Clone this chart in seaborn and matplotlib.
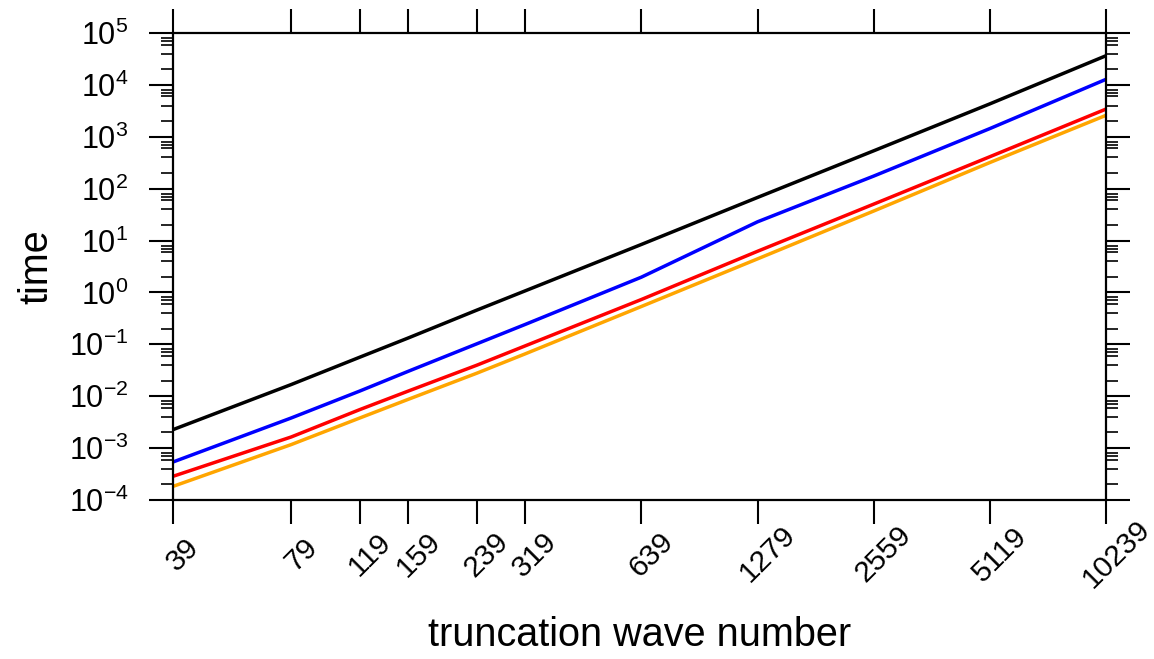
import numpy as np
import pandas as pd
import matplotlib
matplotlib.use("Agg")
import matplotlib.pyplot as plt
import matplotlib.ticker as mticker
import seaborn as sns

# ---- data ----
wave_numbers = [39, 79, 119, 159, 239, 319, 639, 1279, 2559, 5119, 10239]
series_black = [2.27e-3, 1.68e-2, 5.66e-2, 0.133, 0.455, 1.07, 8.41, 67.8, 537, 4310, 36500]
series_blue = [5.40e-4, 3.81e-3, 1.26e-2, 3.03e-2, 0.102, 0.241, 1.97, 23.0, 175, 1440, 12800]
series_red = [2.86e-4, 1.64e-3, 5.53e-3, 1.26e-2, 3.95e-2, 9.31e-2, 0.731, 6.22, 50.4, 413, 3420]
series_orange = [1.83e-4, 1.17e-3, 3.81e-3, 8.73e-3, 2.77e-2, 6.53e-2, 0.536, 4.44, 37.1, 319, 2590]
series_names = ["black", "blue", "red", "orange"]
series_colors = ["black", "blue", "red", "orange"]
x_tick_labels = [str(w) for w in wave_numbers]
y_limits = (1e-4, 1e5)

rows = []
for name, vals in zip(series_names, [series_black, series_blue, series_red, series_orange]):
    for w, v in zip(wave_numbers, vals):
        rows.append({"wave": w, "time": v, "series": name})
df = pd.DataFrame(rows)

sns.set_style("ticks")
plt.rcParams["font.family"] = ["Liberation Sans", "DejaVu Sans"]
plt.rcParams["mathtext.fontset"] = "custom"
plt.rcParams["mathtext.rm"] = "Liberation Sans"
plt.rcParams["mathtext.it"] = "Liberation Sans:italic"
plt.rcParams["mathtext.bf"] = "Liberation Sans:bold"
plt.rcParams["axes.unicode_minus"] = False
plt.rcParams["text.color"] = "black"
plt.rcParams["axes.labelcolor"] = "black"

fig = plt.figure(figsize=(11.54, 6.59), dpi=100)
ax = fig.add_axes([173 / 1154, 1 - 500 / 659, (1106 - 173) / 1154, (500 - 33) / 659])

sns.lineplot(data=df, x="wave", y="time", hue="series", hue_order=series_names,
             palette=series_colors, linewidth=2.5, ax=ax, legend=False, sort=False)

ax.set_xscale("log")
ax.set_yscale("log")
ax.set_xlim(wave_numbers[0], wave_numbers[-1])
ax.set_ylim(*y_limits)

ax.xaxis.set_major_locator(mticker.FixedLocator(wave_numbers))
ax.xaxis.set_major_formatter(mticker.FixedFormatter(x_tick_labels))
ax.xaxis.set_minor_locator(mticker.NullLocator())
ax.yaxis.set_major_locator(mticker.LogLocator(base=10, numticks=20))
ax.yaxis.set_minor_locator(mticker.LogLocator(base=10, subs=[2, 4, 6, 7, 8], numticks=20))
ax.yaxis.set_minor_formatter(mticker.NullFormatter())

for s in ax.spines.values():
    s.set_linewidth(1.6)
    s.set_color("black")

ax.tick_params(axis="both", which="major", direction="out", length=17, width=1.5,
               labelsize=22, colors="black", top=True, right=True)
ax.tick_params(axis="x", which="major", labelsize=21.5, pad=15)
ax.tick_params(axis="y", which="major", pad=15)
ax.tick_params(axis="y", which="minor", direction="out", length=8.5, width=1.2,
               left=True, right=True, colors="black")

for lbl in ax.get_xticklabels():
    lbl.set_rotation(45)
    lbl.set_rotation_mode("anchor")
    lbl.set_ha("center")
    lbl.set_va("top")

ax.set_xlabel("truncation wave number", fontsize=28.5, color="black", va="top")
ax.set_ylabel("time", fontsize=28.5, color="black")
ax.xaxis.set_label_coords(0.5, (500 - 616) / 467)
ax.yaxis.set_label_coords((55 - 173) / 933, 0.5)

fig.savefig("out.png", dpi=100)
